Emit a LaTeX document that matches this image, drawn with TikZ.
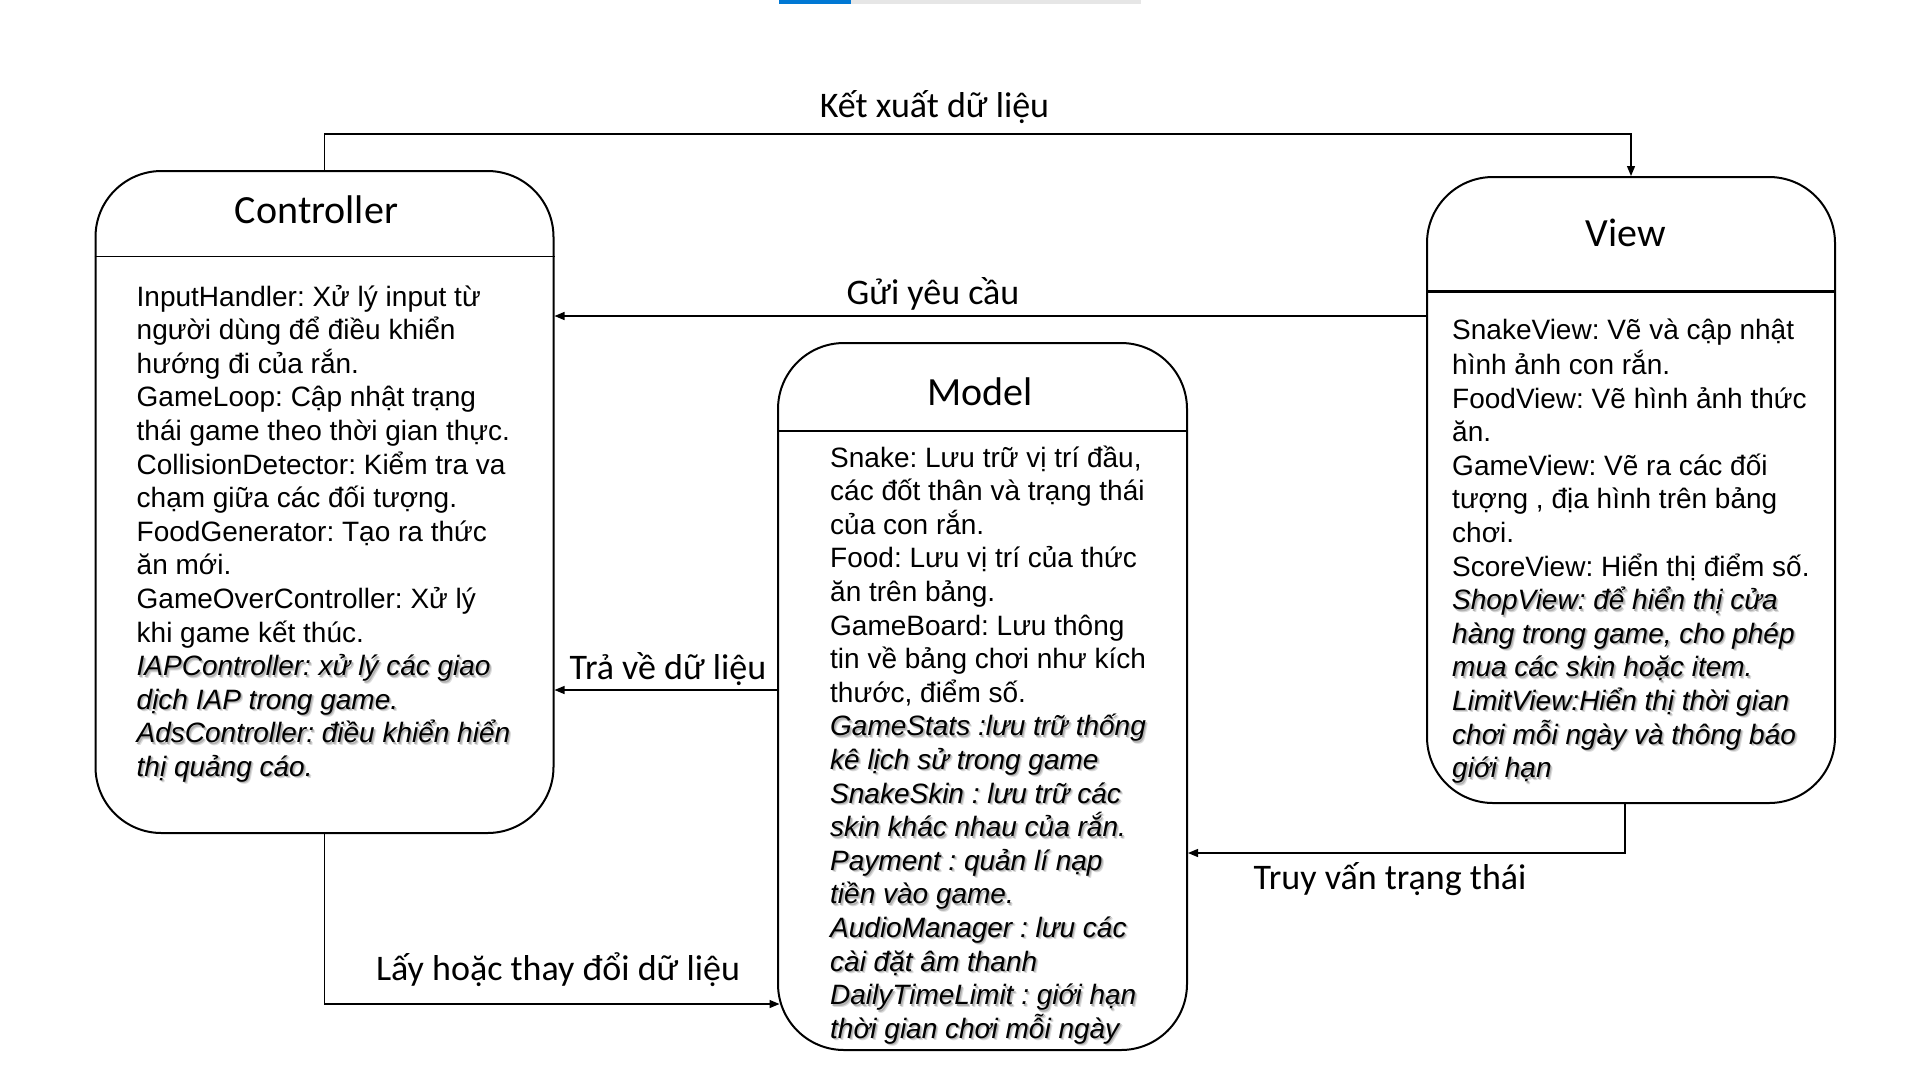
\documentclass[tikz,border=0pt]{standalone}
\usepackage{fontspec}
\setmainfont{Liberation Sans}
\newfontfamily\labelfont{Carlito}
\usetikzlibrary{arrows.meta}
\frenchspacing

\definecolor{barblue}{RGB}{0,120,212}
\definecolor{bargray}{RGB}{230,230,230}

% italic text with a soft drop shadow
\newcommand\shad[1]{\rlap{\kern2.4pt\raisebox{-2.4pt}{\textcolor{black!14}{#1}}}\rlap{\kern1.4pt\raisebox{-1.4pt}{\textcolor{black!30}{#1}}}#1}
\newcommand\shit[1]{{\itshape\shad{#1}}}

\tikzset{
  box/.style={draw, line width=2pt, rounded corners=66pt, inner sep=0pt},
  title/.style={font=\labelfont\fontsize{40}{48}\selectfont, inner sep=0pt},
  lbl/.style={font=\labelfont\fontsize{36}{43}\selectfont, inner sep=0pt},
  body/.style={font=\fontsize{28}{33.6}\selectfont, align=left, anchor=north west, inner sep=0pt},
  conn/.style={line width=1.3pt, -{Triangle[length=10pt,width=8pt]}},
}

\begin{document}
\begin{tikzpicture}[x=1pt,y=-1pt]
\useasboundingbox[fill=white] (0,0) rectangle (1920,1080);

% progress bar at the top edge
\fill[bargray] (779,0) rectangle (1141,4);
\fill[barblue] (779,0) rectangle (851,4);

% the three components
\node[box, minimum width=458pt, minimum height=662pt] (ctrl) at (324.5,502) {};
\node[box, minimum width=409pt, minimum height=707pt] (model) at (982.5,696.5) {};
\node[box, minimum width=408pt, minimum height=626pt] (view) at (1631,490) {};

% header dividers
\draw[line width=1.4pt] (ctrl.west |- 0,256.7) -- (ctrl.east |- 0,256.7);
\draw[line width=1.4pt] (model.west |- 0,431) -- (model.east |- 0,431);
\draw[line width=3pt] (view.west |- 0,291) -- (view.east |- 0,291);

% titles
\node[title] (ctrltitle) at (316.5,209.5) {Controller};
\node[title] (modeltitle) at (980,392) {Model};
\node[title] (viewtitle) at (1626,233) {View};

% compartment contents
\node[body] (ctrlbody) at (136.5,282.4) {\strut InputHandler: Xử lý input từ\\
người dùng để điều khiển\\
hướng đi của rắn.\\
GameLoop: Cập nhật trạng\\
thái game theo thời gian thực.\\
CollisionDetector: Kiểm tra va\\
chạm giữa các đối tượng.\\
FoodGenerator: Tạo ra thức\\
ăn mới.\\
GameOverController: Xử lý\\
khi game kết thúc.\\
\shit{IAPController: xử lý các giao}\\
\shit{dịch IAP trong game.}\\
\shit{AdsController: điều khiển hiển}\\
\shit{thị quảng cáo.}};

\node[body] (modelbody) at (830,443.4) {\strut Snake: Lưu trữ vị trí đầu,\\
các đốt thân và trạng thái\\
của con rắn.\\
Food: Lưu vị trí của thức\\
ăn trên bảng.\\
GameBoard: Lưu thông\\
tin về bảng chơi như kích\\
thước, điểm số.\\
\shit{GameStats :lưu trữ thống}\\
\shit{kê lịch sử trong game}\\
\shit{SnakeSkin : lưu trữ các}\\
\shit{skin khác nhau của rắn.}\\
\shit{Payment : quản lí nạp}\\
\shit{tiền vào game.}\\
\shit{AudioManager : lưu các}\\
\shit{cài đặt âm thanh}\\
\shit{DailyTimeLimit : giới hạn}\\
\shit{thời gian chơi mỗi ngày}};

\node[body] (viewbody) at (1452,315.4) {\strut SnakeView: Vẽ và cập nhật\\
hình ảnh con rắn.\\
FoodView: Vẽ hình ảnh thức\\
ăn.\\
GameView: Vẽ ra các đối\\
tượng , địa hình trên bảng\\
chơi.\\
ScoreView: Hiển thị điểm số.\\
\shit{ShopView: để hiển thị cửa}\\
\shit{hàng trong game, cho phép}\\
\shit{mua các skin hoặc item.}\\
\shit{LimitView:Hiển thị thời gian}\\
\shit{chơi mỗi ngày và thông báo}\\
\shit{giới hạn}};

% connectors
\draw[conn] (ctrl.north) -- ++(0,-36) -| (view.north);
\draw[conn] (view.west |- 0,316) -- (ctrl.east |- 0,316);
\draw[conn] (model.west |- 0,690) -- (ctrl.east |- 0,690);
\draw[conn] (ctrl.south) |- ([xshift=2.5pt]model.west |- 0,1004);
\draw[conn] ([xshift=-6pt]view.south) |- (model.east |- 0,853);

% connector labels
\node[lbl] (l1) at (934.5,107) {Kết xuất dữ liệu};
\node[lbl] (l2) at (933,294) {Gửi yêu cầu};
\node[lbl] (l3) at (668,669) {Trả về dữ liệu};
\node[lbl] (l4) at (558,970) {Lấy hoặc thay đổi dữ liệu};
\node[lbl] (l5) at (1390,879) {Truy vấn trạng thái};
\end{tikzpicture}
\end{document}
